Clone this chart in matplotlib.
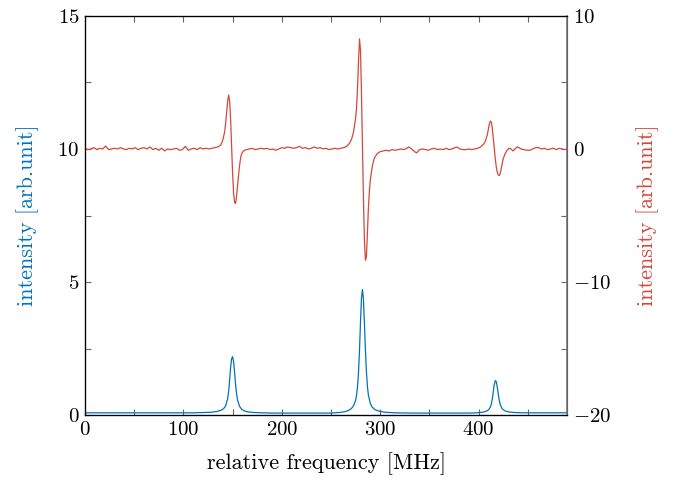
import matplotlib
matplotlib.use("Agg")
import matplotlib.pyplot as plt
from matplotlib.ticker import MultipleLocator

plt.rcParams["font.family"] = "serif"
plt.rcParams["font.serif"] = ["cmr10", "DejaVu Serif"]
plt.rcParams["mathtext.fontset"] = "cm"
plt.rcParams["axes.formatter.use_mathtext"] = True
plt.rcParams["axes.unicode_minus"] = True

BLUE = "#0072BD"
RED = "#D2483A"

# absorption signal (left axis)
blue_x = [0, 10, 20, 30, 40, 50, 60, 70, 80, 90, 100, 110, 120, 128, 134, 138,
          141, 143, 145, 146, 147, 148, 149, 150, 151, 152, 153, 154, 155, 157,
          159, 162, 166, 172, 180, 190, 200, 210, 220, 230, 240, 250, 258, 264,
          268, 271, 273, 275, 276, 277, 278, 279, 280, 281, 282, 283, 284, 285,
          286, 287, 288, 290, 292, 295, 299, 305, 315, 330, 345, 360, 375, 390,
          398, 404, 408, 410, 412, 413, 414, 415, 416, 417, 418, 419, 420, 421,
          422, 424, 427, 431, 437, 445, 460, 475, 490]
blue_y = [0.09, 0.09, 0.09, 0.09, 0.09, 0.09, 0.09, 0.09, 0.09, 0.09, 0.09, 0.09,
          0.10, 0.11, 0.14, 0.18, 0.25, 0.36, 0.62, 0.90, 1.32, 1.80, 2.12, 2.20,
          2.02, 1.62, 1.17, 0.82, 0.58, 0.34, 0.23, 0.16, 0.12, 0.10, 0.09, 0.08,
          0.08, 0.08, 0.08, 0.08, 0.08, 0.08, 0.10, 0.13, 0.18, 0.26, 0.36, 0.56,
          0.75, 1.08, 1.62, 2.45, 3.50, 4.40, 4.72, 4.35, 3.45, 2.45, 1.65, 1.10,
          0.76, 0.44, 0.30, 0.20, 0.15, 0.11, 0.09, 0.08, 0.08, 0.08, 0.08, 0.08,
          0.09, 0.11, 0.15, 0.20, 0.30, 0.42, 0.62, 0.90, 1.16, 1.30, 1.26, 1.06,
          0.80, 0.56, 0.40, 0.24, 0.16, 0.12, 0.10, 0.09, 0.09, 0.09, 0.09]

# dispersion signal (right axis)
red_x = [0, 3, 6, 9, 12, 15, 18, 21, 24, 27, 30, 33, 36, 39, 42, 45, 48, 51, 54,
         57, 60, 63, 66, 69, 72, 75, 78, 81, 84, 87, 90, 93, 96, 99, 102, 105,
         108, 111, 114, 117, 120, 123, 126, 129, 132, 135, 138,
         140, 142, 143, 144, 145, 146, 147, 148, 149, 150, 151, 152, 153, 154,
         155, 156, 157, 158, 159, 161, 164, 167, 170,
         173, 176, 179, 182, 185, 188, 191, 194, 197, 200, 203, 206, 209, 212,
         215, 218, 221, 224, 227, 230, 233, 236, 239, 242, 245, 248, 251, 254,
         257, 260,
         263, 266, 269, 271, 273, 275, 276, 277, 278, 279, 280, 281, 282, 283,
         284, 285, 286, 287, 288, 289, 290, 292, 294, 297, 300, 303,
         306, 309, 312, 315, 318, 321, 324, 327, 329, 332, 335, 337, 340, 343,
         346, 349, 352, 355, 358, 361, 364, 367, 370, 373, 376, 378, 381, 384,
         387, 390, 393, 396, 399,
         402, 405, 407, 409, 410, 411, 412, 413, 414, 415, 416, 417, 418, 419,
         420, 421, 422, 423, 424, 425, 427, 429, 431, 433, 435, 437, 439, 441,
         443, 446, 449, 452, 455, 458, 461, 464, 467, 470, 473, 476, 479, 482,
         485, 488, 490]
red_y = [0.05, -0.05, 0.0, 0.1, -0.05, 0.05, 0.0, 0.22, -0.05, 0.0, 0.05, 0.0,
         0.1, 0.0, -0.05, 0.05, 0.0, 0.1, -0.05, 0.05, 0.1, 0.0, 0.15, -0.05,
         0.05, -0.1, 0.05, -0.15, 0.0, -0.05, 0.0, 0.05, -0.1, -0.05, 0.2, -0.1,
         0.0, 0.05, -0.05, 0.1, 0.0, 0.05, 0.0, 0.05, 0.1, 0.15, 0.3,
         0.65, 1.3, 2.0, 2.8, 3.6, 4.05, 3.6, 2.2, 0.1, -1.8, -3.3, -4.0, -4.1,
         -3.6, -2.8, -2.0, -1.3, -0.75, -0.4, -0.15, -0.05, 0.0, 0.05,
         -0.05, 0.0, 0.05, 0.0, 0.05, -0.05, 0.0, -0.1, 0.0, 0.1, 0.05, 0.15,
         0.1, 0.05, 0.1, 0.2, 0.05, 0.1, 0.0, 0.05, 0.15, 0.05, 0.1, 0.0, 0.05,
         -0.05, 0.0, 0.05, 0.0, 0.05,
         0.1, 0.2, 0.45, 0.75, 1.3, 2.3, 3.1, 4.6, 6.6, 8.27, 7.4, 4.2, 0.2,
         -3.8, -6.9, -8.35, -8.1, -6.4, -4.5, -3.2, -2.3, -1.3, -0.7, -0.35,
         -0.2, -0.15,
         -0.1, -0.15, -0.05, -0.1, -0.05, 0.0, -0.05, 0.05, 0.15, 0.0, -0.2,
         -0.3, -0.05, 0.0, -0.05, -0.1, 0.0, 0.05, -0.05, 0.0, -0.05, 0.05,
         -0.05, 0.0, 0.1, 0.15, 0.0, -0.05, -0.05, 0.0, -0.05, 0.0, 0.05,
         0.15, 0.35, 0.6, 1.1, 1.5, 1.9, 2.1, 2.0, 1.55, 0.8, 0.0, -0.75, -1.35,
         -1.75, -1.95, -2.0, -1.85, -1.5, -1.1, -0.75, -0.35, -0.1, 0.05, 0.0,
         -0.15, 0.0, 0.15, 0.1, 0.0, -0.05, -0.1, -0.1, 0.0, 0.1, 0.1, 0.0,
         0.05, -0.05, 0.0, 0.05, -0.05, 0.05, 0.0, -0.05, 0.0]

x_ticks = [0, 100, 200, 300, 400]
left_ticks = [0, 5, 10, 15]
right_ticks = [-20, -10, 0, 10]

fig = plt.figure(figsize=(6.8, 4.8), dpi=100)
ax = fig.add_axes([0.125, 0.135, 0.709, 0.832])
ax2 = ax.twinx()

ax.plot(blue_x, blue_y, color=BLUE, lw=0.9)
ax2.plot(red_x, red_y, color=RED, lw=0.9)

ax.set_xlim(0, 490)
ax.set_ylim(0, 15)
ax2.set_ylim(-20, 10)

ax.set_xticks(x_ticks)
ax.set_yticks(left_ticks)
ax2.set_yticks(right_ticks)
ax.xaxis.set_minor_locator(MultipleLocator(50))
ax.yaxis.set_minor_locator(MultipleLocator(2.5))
ax2.yaxis.set_minor_locator(MultipleLocator(5))

for a in (ax, ax2):
    a.tick_params(which="both", direction="in", length=4.5, width=0.8,
                  color="#666666", labelsize=15, pad=4)
ax.tick_params(which="both", top=True, right=False)
ax2.tick_params(which="both", left=False, right=True)

for s in ("left", "bottom", "top"):
    ax.spines[s].set_linewidth(0.9)
ax2.spines["right"].set_color("#777777")
ax2.spines["right"].set_linewidth(1.2)

ax.set_xlabel("relative frequency [MHz]", fontsize=16, labelpad=10)
ax.set_ylabel("intensity [arb.unit]", fontsize=16, color=BLUE, labelpad=13)
ax2.set_ylabel("intensity [arb.unit]", fontsize=16, color=RED, labelpad=18)

fig.savefig("out.png", dpi=100)
